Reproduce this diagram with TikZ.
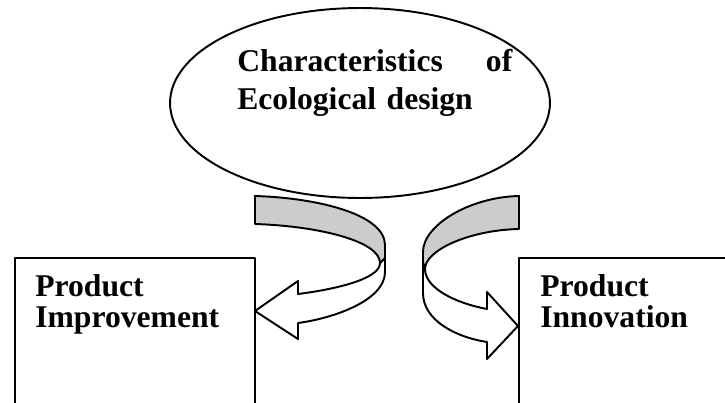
\documentclass[tikz,border=0pt]{standalone}
\usepackage{fontspec}
\setmainfont{Liberation Serif}
\usetikzlibrary{shapes.geometric}

\tikzset{
  outline/.style={line width=1.1pt, line join=round},
  band/.style={outline, fill=gray!40},
  boxtext/.style={anchor=north west, inner sep=0pt, align=left, font=\fontsize{18}{18}\selectfont\bfseries},
}

\begin{document}
\begin{tikzpicture}[x=0.02cm, y=-0.02cm]
  \useasboundingbox (0,0) rectangle (725,403);

  % top ellipse
  \node[draw, ellipse, outline, inner sep=0pt, minimum width=7.6cm, minimum height=3.8cm] (eco) at (360,103) {};
  \node[boxtext, font=\fontsize{18}{21.6}\selectfont\bfseries, text width=5.5cm] (ecotext) at (237,49) {Characteristics\hfill of\\Ecological design};

  % the two boxes, open at the bottom
  \draw[outline] (15,403) |- (255,258) -- (255,403);
  \node[boxtext] (impr) at (35,274) {Product\\Improvement};
  \draw[outline] (519,403) |- (725,258);
  \node[boxtext] (innov) at (540,274) {Product\\Innovation};

  % left ribbon arrow
  \filldraw[outline, fill=white] (380,263) .. controls (380,280) and (330,290) .. (298,294) -- (298,281) -- (255,311) -- (298,339) -- (298,323) .. controls (335,318) and (385,300) .. (385,272) -- (385,258) -- cycle;
  \filldraw[band] (255,196) .. controls (320,198) and (385,215) .. (385,245) -- (385,258) -- (380,263) .. controls (380,241) and (318,226) .. (255,224) -- cycle;

  % right ribbon arrow
  \filldraw[outline, fill=white] (425,269) .. controls (425,288) and (455,303) .. (487,309) -- (487,292) -- (518,326) -- (487,359) -- (487,342) .. controls (455,337) and (423,320) .. (423,293) -- (423,262) -- cycle;
  \filldraw[band] (519,196) .. controls (470,197) and (423,225) .. (423,252) -- (423,262) -- (425,269) .. controls (425,250) and (470,230) .. (519,229) -- cycle;
\end{tikzpicture}
\end{document}
